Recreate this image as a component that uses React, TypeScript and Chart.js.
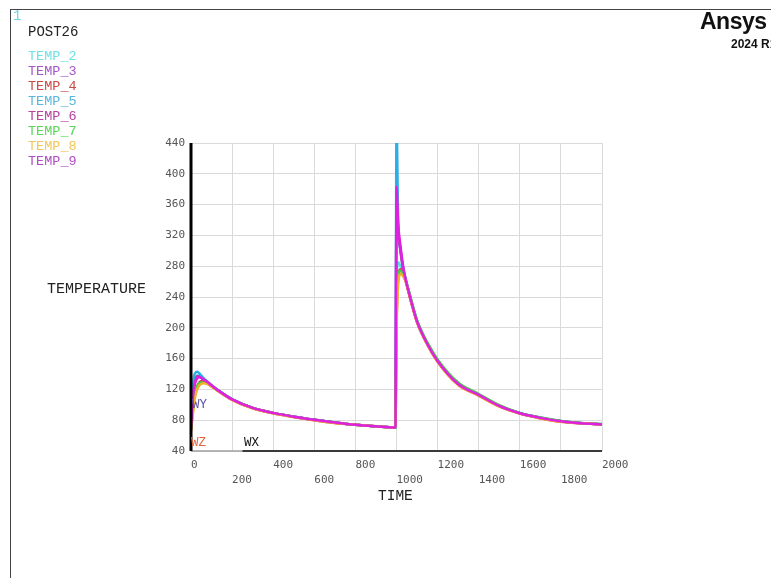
import { useRef, useEffect } from 'react';
import { Chart, registerables } from 'chart.js';

Chart.register(...registerables);

// time points (s) shared by every node history
const TIMES = [
  0, 10, 20, 30, 40, 50, 60, 80, 100, 130,
  200, 300, 400, 500, 600, 700, 800, 900, 995,
  1000, 1008, 1020, 1035, 1045,
  1060, 1080, 1100, 1150, 1200, 1300, 1400, 1500, 1600, 1700, 1800, 1900, 2000,
];

const TEMP_2 = [
  74, 120, 134, 138, 138, 136, 134, 129.5, 125, 119,
  107, 96, 89.5, 84.5, 80.5, 77, 74, 72, 70.5,
  240, 285, 280, 268, 261,
  247, 227, 209, 180, 158, 128, 113, 99, 89, 83, 78.5, 76, 74.5,
];
const TEMP_3 = [
  72, 118, 132, 137, 137, 135, 133, 129.5, 125, 119,
  107, 96, 89.5, 84.5, 80.5, 77, 74, 72, 70.5,
  375, 330, 300, 273, 262,
  246, 226, 208, 179, 157, 127, 113, 98.5, 89, 83, 78.5, 76, 74.5,
];
const TEMP_4 = [
  66, 95, 115, 124, 129, 131, 131, 129, 124.5, 118.5,
  106.5, 95.5, 89, 84, 80, 76.5, 74, 72, 70.5,
  200, 265, 276, 268, 260,
  245, 225, 207, 178, 156, 126, 112, 98, 88.5, 82.5, 78, 76, 74.5,
];
const TEMP_5 = [
  75, 128, 141, 143, 141, 138, 135, 130, 125.5, 119.5,
  107.5, 96, 89.5, 84.5, 80.5, 77, 74, 72, 70.5,
  470, 340, 300, 275, 263,
  247, 227, 209, 180, 158, 128, 113.5, 99, 89.5, 83.5, 79, 76.5, 75,
];
const TEMP_6 = [
  72, 115, 130, 135, 136, 135, 133, 129.5, 125, 119,
  107, 96, 89.5, 84.5, 80.5, 77, 74, 72, 70.5,
  365, 325, 298, 272, 262,
  246, 226, 208, 179, 157, 127, 113, 98.5, 89, 83, 78.5, 76, 74.5,
];
const TEMP_7 = [
  68, 98, 116, 124, 128, 129, 129, 128, 124, 118.5,
  107, 96, 89.5, 84.5, 80.5, 77, 74, 72, 70.5,
  215, 270, 274, 267, 261,
  248, 228, 210, 181, 159, 129, 114, 99.5, 89.5, 83.5, 79, 76.5, 75,
];
const TEMP_8 = [
  66, 90, 110, 120, 125, 127, 128, 127, 123.5, 118,
  106.5, 95.5, 89, 84, 80, 76.5, 74, 72, 70.5,
  190, 255, 270, 266, 260,
  245, 225, 207, 178, 156, 126, 112, 98, 88.5, 82.5, 78, 76, 74.5,
];
const TEMP_9 = [
  70, 112, 128, 134, 136, 135, 133, 129.5, 125, 119,
  107, 96, 89.5, 84.5, 80.5, 77, 74, 72, 70.5,
  383, 335, 305, 275, 262,
  246, 226, 208, 179, 157, 127, 113, 98.5, 89, 83, 78.5, 76, 74.5,
];

const SERIES_NAMES = ['TEMP_2', 'TEMP_3', 'TEMP_4', 'TEMP_5', 'TEMP_6', 'TEMP_7', 'TEMP_8', 'TEMP_9'];
const SERIES_VALUES = [TEMP_2, TEMP_3, TEMP_4, TEMP_5, TEMP_6, TEMP_7, TEMP_8, TEMP_9];
const LINE_COLORS = ['#4fe0e4', '#a044c8', '#d84040', '#2eaee2', '#c03cb8', '#48cc48', '#f0b028', '#e020e0'];
const LABEL_COLORS = ['#6fe0e4', '#a656c8', '#c84a44', '#5ab6dc', '#b8429e', '#5ad65a', '#f2c658', '#b04cc4'];

const X_MIN = 0;
const X_MAX = 2000;
const X_STEP = 200;
const Y_MIN = 40;
const Y_MAX = 440;
const Y_STEP = 40;

const MONO = '"Liberation Mono", "DejaVu Sans Mono", monospace';

// plot frame: thick black Y axis, grey/dark X axis
const axisLines = {
  id: 'axisLines',
  afterDatasetsDraw(chart: Chart) {
    const { ctx, chartArea } = chart;
    const xs = chart.scales.x;
    const split = xs.getPixelForValue(250);
    ctx.save();
    ctx.strokeStyle = '#a0a0a0';
    ctx.lineWidth = 1.5;
    ctx.beginPath();
    ctx.moveTo(chartArea.left, chartArea.bottom);
    ctx.lineTo(split, chartArea.bottom);
    ctx.stroke();
    ctx.strokeStyle = '#3a3a3a';
    ctx.lineWidth = 2;
    ctx.beginPath();
    ctx.moveTo(split, chartArea.bottom);
    ctx.lineTo(chartArea.right, chartArea.bottom);
    ctx.stroke();
    ctx.strokeStyle = '#000';
    ctx.lineWidth = 3;
    ctx.beginPath();
    ctx.moveTo(chartArea.left, chartArea.top);
    ctx.lineTo(chartArea.left, chartArea.bottom);
    ctx.stroke();
    ctx.restore();
  },
};

function text(content: string, left: number, centerY: number, style: React.CSSProperties) {
  return (
    <div
      key={content + left + centerY}
      style={{
        position: 'absolute', left, top: centerY - 8, height: 16, lineHeight: '16px',
        whiteSpace: 'nowrap', fontFamily: MONO, ...style,
      }}
    >
      {content}
    </div>
  );
}

export default function App() {
  const canvasRef = useRef<HTMLCanvasElement>(null);

  useEffect(() => {
    if (!canvasRef.current) return;
    const chart = new Chart(canvasRef.current, {
      type: 'line',
      data: {
        datasets: SERIES_VALUES.map((vals, i) => ({
          label: SERIES_NAMES[i],
          data: vals.map((v, j) => ({ x: TIMES[j], y: v })),
          borderColor: LINE_COLORS[i],
          borderWidth: 2.5,
          pointRadius: 0,
          fill: false,
          cubicInterpolationMode: 'monotone' as const,
          order: SERIES_VALUES.length - i,
        })),
      },
      plugins: [axisLines],
      options: {
        animation: false,
        responsive: true,
        maintainAspectRatio: false,
        layout: { padding: { left: 131, top: 143, right: 169, bottom: 87 } },
        plugins: { legend: { display: false }, tooltip: { enabled: false } },
        scales: {
          x: {
            type: 'linear',
            min: X_MIN,
            max: X_MAX,
            afterFit: (s: any) => { s.height = 40; },
            border: { display: false },
            grid: { color: '#dadada', lineWidth: 1, drawTicks: false },
            ticks: {
              stepSize: X_STEP,
              align: 'start',
              padding: 7,
              color: '#555',
              font: { family: '"DejaVu Sans Mono", monospace', size: 11, lineHeight: 1.36 },
              callback: (v: any, idx: number) => (idx % 2 === 1 ? ['', String(v)] : String(v)),
            },
          },
          y: {
            min: Y_MIN,
            max: Y_MAX,
            afterFit: (s: any) => { s.width = 60; },
            border: { display: false },
            grid: { color: '#dadada', lineWidth: 1, drawTicks: false },
            ticks: {
              stepSize: Y_STEP,
              padding: 6,
              color: '#555',
              font: { family: '"DejaVu Sans Mono", monospace', size: 11 },
            },
          },
        },
      },
    });
    return () => { chart.destroy(); };
  }, []);

  return (
    <div style={{ position: 'fixed', left: 0, top: 0, width: 771, height: 578, overflow: 'hidden', background: '#fff' }}>
      <div style={{ position: 'absolute', left: 10, top: 9, right: -5, bottom: -5, borderTop: '1px solid #444', borderLeft: '1px solid #444' }} />
      <div style={{ position: 'absolute', left: 0, top: 0, width: 771, height: 578 }}>
        <canvas ref={canvasRef} />
      </div>
      {text('1', 13, 16, { color: '#6cd6e4', fontSize: 14 })}
      {text('POST26', 28, 32, { color: '#222', fontSize: 14 })}
      {SERIES_NAMES.map((n, i) => text(n, 28, 56.5 + i * 15.1, { color: LABEL_COLORS[i], fontSize: 13.5 }))}
      {text('TEMPERATURE', 47, 290, { color: '#222', fontSize: 15 })}
      {text('TIME', 378, 496, { color: '#222', fontSize: 14.5 })}
      {text('WY', 192, 405, { color: '#5a4fa8', fontSize: 12.5 })}
      {text('WZ', 191, 443, { color: '#e0663c', fontSize: 12.5 })}
      {text('WX', 244, 443, { color: '#111', fontSize: 12.5 })}
      {text('Ansys', 700, 21, { color: '#111', fontSize: 23, fontWeight: 'bold', fontFamily: '"Liberation Sans", Arial, sans-serif', letterSpacing: -0.5 })}
      {text('2024 R1', 731, 44, { color: '#111', fontSize: 12, fontWeight: 'bold', fontFamily: '"Liberation Sans", Arial, sans-serif' })}
    </div>
  );
}
